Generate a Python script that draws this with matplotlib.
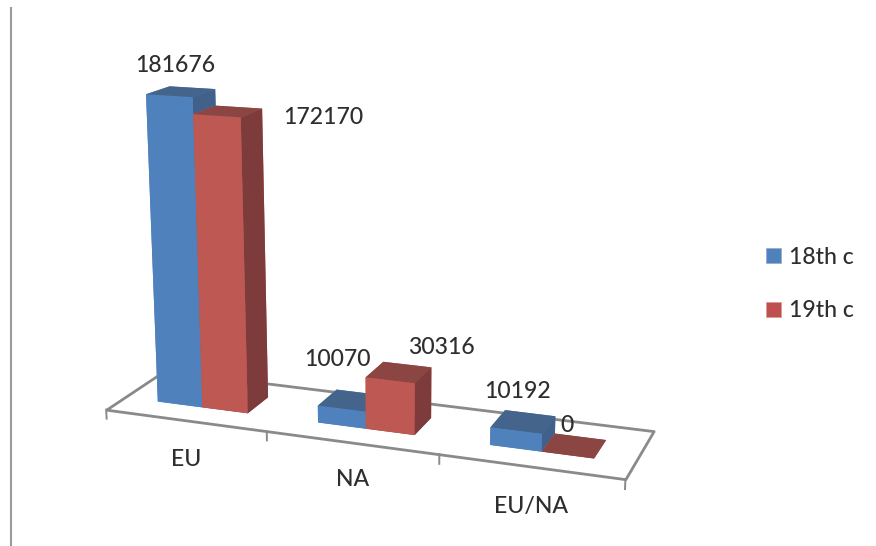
import numpy as np
import matplotlib
matplotlib.use("Agg")
import matplotlib.pyplot as plt
from matplotlib.lines import Line2D
from matplotlib.patches import Patch
from mpl_toolkits.mplot3d.art3d import Poly3DCollection

categories = ["EU", "NA", "EU/NA"]
series_names = ["18th c", "19th c"]
c18 = [181676, 10070, 10192]
c19 = [172170, 30316, 0]
ZMAX = 200000
W, H = 876, 546

plt.rcParams["font.family"] = ["Lato", "DejaVu Sans"]
plt.rcParams["font.weight"] = "medium"
TXT = "#2e2e2e"
FS = 16.6

fig = plt.figure(figsize=(W/100, H/100), dpi=100, facecolor="white")
ax = fig.add_axes([0.1, 0.1, 400/W, 400/H], projection="3d", computed_zorder=False)
ax.set_xlim(0, 3, view_margin=0); ax.set_ylim(0, 1, view_margin=0); ax.set_zlim(0, ZMAX, view_margin=0)
ax.view_init(elev=14.8776, azim=-69.5475, roll=0.2006)
ax.set_proj_type("persp", focal_length=np.exp(-0.7336))
ax.set_box_aspect((1, np.exp(-1.4212), np.exp(-0.418)))
a, b, c0 = 3527.926, 374.165, 249.748
x0, x1, y0 = ax.viewLim.x0, ax.viewLim.x1, ax.viewLim.y0
side = a*(x1-x0)
ax.set_position([(a*x0+b)/W, (H-c0+a*y0)/H, side/W, side/H])
ax.set_axis_off()
ax.patch.set_visible(False)

g, d = 0.2149, 0.3045
GREY = "#8a8a8a"
ax.add_collection3d(Poly3DCollection([[(0,0,0),(3,0,0),(3,1,0),(0,1,0)]], facecolor="white",
                                     edgecolor=GREY, linewidth=2.0, zorder=1))
for i in range(len(categories)+1):
    ax.plot([i, i], [0, 0], [0, -5500], color=GREY, lw=1.4, zorder=1.5)

w = 0.5-g
for i in range(len(categories)):
    ax.bar3d(i+g, d, 0, w, 1-2*d, c18[i],
             color=["#4F81BD","#44648c","#4F81BD","#4F81BD","#4F81BD","#41618a"], shade=False, zorder=2+i)
    ax.bar3d(i+.5, d, 0, w, 1-2*d, c19[i],
             color=["#8b4543","#8b4543","#BD5853","#BD5853","#BD5853","#7d3c3b"], shade=False, zorder=2+i)

def ptext(px, py, s):
    fig.text(px/W, 1-(py+2)/H, s, ha="center", va="center", fontsize=FS, color=TXT, zorder=20)

ptext(175, 64, str(c18[0])); ptext(323, 115, str(c19[0]))
ptext(337, 358, str(c18[1])); ptext(441, 346, str(c19[1]))
ptext(518, 390, str(c18[2])); ptext(567, 423, str(c19[2]))
ptext(186, 457, categories[0]); ptext(353, 478, categories[1]); ptext(531, 505, categories[2])

fig.add_artist(Line2D([10.5/W, 10.5/W], [0, 1-8/H], color="#9a9a9a", lw=1.5))

handles = [Patch(facecolor="#4F81BD", edgecolor="#8fb0d8", linewidth=0.6),
           Patch(facecolor="#C0504D", edgecolor="#dc9a98", linewidth=0.6)]
fig.legend(handles, series_names, loc="center left", bbox_to_anchor=(766/W, 1-284/H), frameon=False,
           fontsize=FS, labelcolor=TXT, handlelength=0.66, handleheight=0.66, handletextpad=0.33,
           labelspacing=1.42, borderpad=0, borderaxespad=0)
fig.savefig("out.png", dpi=100)
